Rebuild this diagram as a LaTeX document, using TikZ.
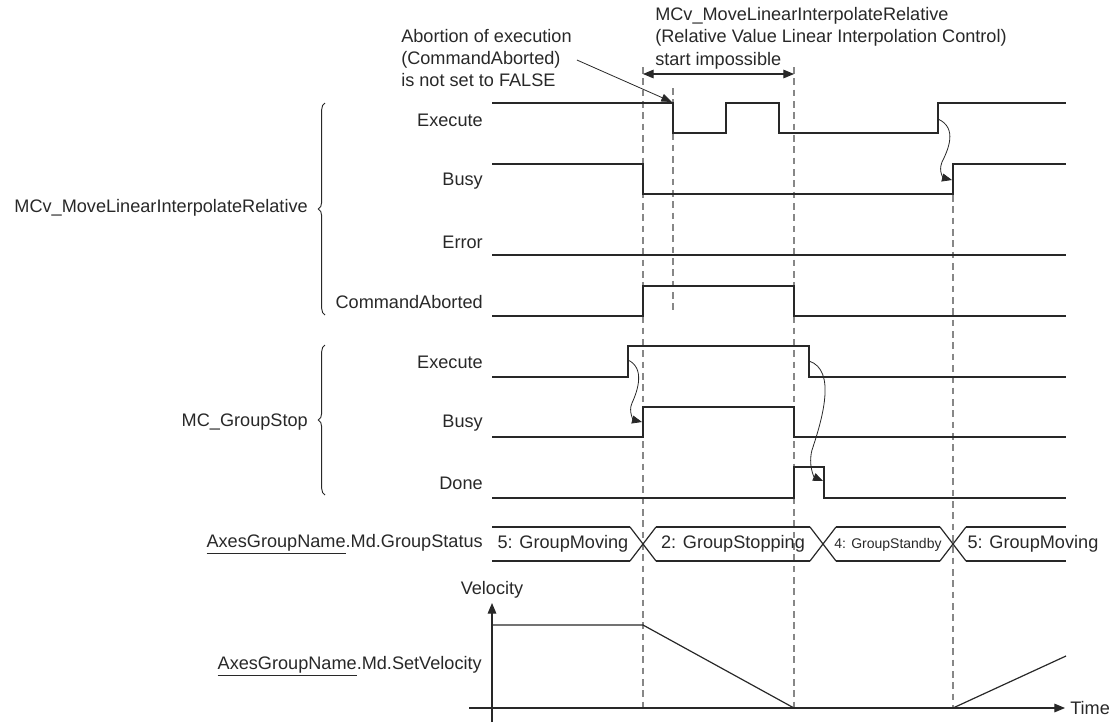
\documentclass[tikz,border=0pt]{standalone}
\usepackage{fontspec}
\setmainfont{Liberation Sans}
\usepackage{tikz}
\usetikzlibrary{arrows.meta, positioning, decorations.pathreplacing, calc}
\definecolor{sigdark}{RGB}{40, 40, 40}
\definecolor{guidegray}{RGB}{135, 135, 135}
\tikzstyle{signal} = [
    line width=1.1pt, 
    color=sigdark, 
    line join=miter
]
\tikzstyle{guide} = [
    line width=0.9pt, 
    color=guidegray, 
    dash pattern=on 5pt off 3.5pt
]
\tikzstyle{sig label} = [
    anchor=east, 
    inner sep=0pt, 
    text=sigdark
]
\tikzstyle{note} = [
    align=left, 
    inner sep=0pt, 
    text=sigdark, 
    font=\fontsize{13.6}{16.8}\selectfont
]
\tikzstyle{cause} = [
    line width=0.6pt, 
    color=sigdark, 
    -{Triangle[length=7.5pt, width=6pt]}
]
\tikzstyle{group brace} = [
    line width=0.7pt, 
    color=sigdark, 
    decorate, 
    decoration={brace, amplitude=5pt}
]

\begin{document}
\begin{tikzpicture}[x=0.75pt, y=-0.75pt, font=\fontsize{13.6}{16.8}\selectfont]
        \useasboundingbox (0,0) rectangle (1114,722);

        % Notes
        \node[note, anchor=west] (abortnote) at (401,58) {Abortion of execution\\(CommandAborted)\\is not set to FALSE};
        \node[note, anchor=west] (startnote) at (655,38) {MCv\_MoveLinearInterpolateRelative\\(Relative Value Linear Interpolation Control)\\start impossible};

        % Guide lines
        \draw[guide] (643,67) -- (643,708);
        \draw[guide] (673,88) -- (673,310);
        \draw[guide] (794,67) -- (794,708);
        \draw[guide] (953,195) -- (953,708);

        \coordinate (ngL) at (643,74);
        \coordinate (ngR) at (794,74);
        \draw[line width=0.8pt, color=sigdark, {Triangle[length=8pt, width=6.5pt]}-{Triangle[length=8pt, width=6.5pt]}] (ngL) -- (ngR);
        \coordinate (abortTip) at (672,102);
        \draw[line width=0.6pt, color=sigdark, -{Triangle[length=8pt, width=6pt]}] (abortnote.east |- 0,60) ++(5,0) coordinate (abortFrom) -- (abortTip);

        % Signal names
        \node[sig label] (mExec) at (483,120) {Execute};
        \node[sig label] (mBusy) at (483,181) {Busy};
        \node[sig label] (mErr) at (483,242) {Error};
        \node[sig label] (mAbort) at (483,302) {CommandAborted};
        \node[sig label] (gExec) at (483,362) {Execute};
        \node[sig label] (gBusy) at (483,423) {Busy};
        \node[sig label] (gDone) at (483,483) {Done};

        \draw[group brace] (325,315) -- (325,103);
        \node[sig label] (mcvName) at (308,208) {MCv\_MoveLinearInterpolateRelative};
        \draw[group brace] (325,495) -- (325,345);
        \node[sig label] (stopName) at (308,422) {MC\_GroupStop};

        % MCv_MoveLinearInterpolateRelative
        \draw[signal] (492,103) -- (673,103) -- (673,133) -- (726,133) -- (726,103) -- (779,103) -- (779,133) -- (938,133) -- (938,103) -- (1066,103);
        \draw[signal] (492,164) -- (643,164) -- (643,194) -- (953,194) -- (953,164) -- (1066,164);
        \draw[signal] (492,255) -- (1066,255);
        \draw[signal] (492,316) -- (643,316) -- (643,286) -- (794,286) -- (794,316) -- (1066,316);

        % MC_GroupStop
        \draw[signal] (492,377) -- (628,377) -- (628,346) -- (809,346) -- (809,377) -- (1066,377);
        \draw[signal] (492,437) -- (643,437) -- (643,407) -- (794,407) -- (794,437) -- (1066,437);
        \draw[signal] (492,498) -- (794,498) -- (794,467) -- (824,467) -- (824,498) -- (1066,498);

        % Cause arrows
        \coordinate (mExecUp) at (938,119);
        \coordinate (mBusyUp) at (952,180);
        \coordinate (gExecUp) at (628,360);
        \coordinate (gBusyUp) at (642,422);
        \coordinate (gExecDn) at (809,361);
        \coordinate (gDoneDn) at (823,481);
        \draw[cause] (mExecUp) .. controls (958,128) and (948,150) .. (942,162) .. controls (938,172) and (944,178) .. (mBusyUp);
        \draw[cause] (gExecUp) .. controls (645,368) and (638,390) .. (632,403) .. controls (628,412) and (634,420) .. (gBusyUp);
        \draw[cause] (gExecDn) .. controls (837,370) and (822,420) .. (812,450) .. controls (808,465) and (814,477) .. (gDoneDn);

        % Group status
        \node[sig label] (statusName) at (483,544) {\underline{AxesGroupName}.Md.GroupStatus};
        \foreach \a/\b in {492/630, 656/810, 836/940, 966/1066} {
            \draw[signal, line width=0.9pt] (\a,527) -- (\b,527);
            \draw[signal, line width=0.9pt] (\a,561) -- (\b,561);
        }
        \foreach \xc in {643, 823, 953} {
            \draw[signal, line width=0.9pt] (\xc-13,527) -- (\xc+13,561);
            \draw[signal, line width=0.9pt] (\xc-13,561) -- (\xc+13,527);
        }
        \node[text=sigdark] (st1) at (563,544) {5: GroupMoving};
        \node[text=sigdark] (st2) at (733,544) {2: GroupStopping};
        \node[text=sigdark, font=\fontsize{10.5}{12}\selectfont] (st3) at (888,545) {4: GroupStandby};
        \node[text=sigdark] (st4) at (1033,544) {5: GroupMoving};

        % Velocity
        \coordinate (vBase) at (492,722);
        \coordinate (vTop) at (492,603);
        \coordinate (tBase) at (469,708);
        \coordinate (tEnd) at (1065,708);
        \draw[line width=0.8pt, color=sigdark, -{Triangle[length=8pt, width=6.5pt]}] (vBase) -- (vTop);
        \draw[line width=0.8pt, color=sigdark, -{Triangle[length=8pt, width=6.5pt]}] (tBase) -- (tEnd);
        \node[text=sigdark, above=0pt of vTop] (velLabel) {Velocity};
        \node[text=sigdark, anchor=west, inner sep=0pt] (timeLabel) at (1070,708) {Time};
        \node[sig label] (setVelName) at (482,666) {\underline{AxesGroupName}.Md.SetVelocity};
        \draw[signal, line width=0.9pt] (492,625) -- (643,625) -- (794,708) -- (953,708) -- (1066,656);
    \end{tikzpicture}
\end{document}
